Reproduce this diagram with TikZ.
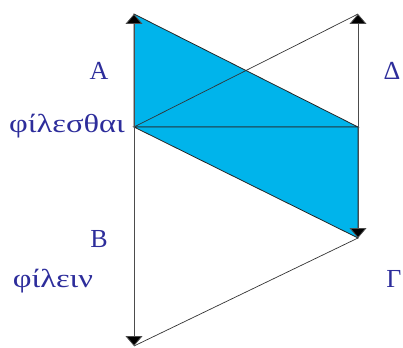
\documentclass[tikz,border=0pt]{standalone}
\usepackage{fontspec}
\setmainfont{Liberation Serif}
\usetikzlibrary{arrows.meta, positioning}
\definecolor{fillblue}{RGB}{0,180,235}
\definecolor{labelblue}{RGB}{45,45,155}

\begin{document}
\begin{tikzpicture}[x=1pt, y=-1pt,
  lbl/.style={text=labelblue, font=\fontsize{26}{30}\selectfont, inner sep=0pt, anchor=base},
  word/.style={lbl, xscale=1.25},
  axisline/.style={draw=black!70, line width=0.8pt, {Triangle[width=17pt,length=10pt,fill=black]}-{Triangle[width=17pt,length=10pt,fill=black]}},
  shade/.style={fill=fillblue, draw=black!85, line width=0.8pt},
  thinline/.style={draw=black!80, line width=0.7pt}
]
  \useasboundingbox (0,0) rectangle (403,347);
  \coordinate (lt) at (134,14);
  \coordinate (lm) at (134,127);
  \coordinate (lb) at (134,346);
  \coordinate (rt) at (358,14);
  \coordinate (rm) at (358,127);
  \coordinate (rb) at (358,238);

  % blue triangles
  \path[shade] (lt) -- (rm) -- (lm) -- cycle;
  \path[shade] (lm) -- (rm) -- (rb) -- cycle;

  % crossing lines
  \draw[thinline] (lm) -- (rt);
  \draw[thinline] (lb) -- (rb);

  % vertical axes
  \draw[axisline] (lb) -- (lt);
  \draw[axisline] (rb) -- (rt);

  % labels
  \node[lbl] (A) at (99,80) {Α};
  \node[lbl] (D) at (392,80) {Δ};
  \node[word] (fil1) at (67,133) {φίλεσθαι};
  \node[lbl] (B) at (99,247) {Β};
  \node[word] (fil2) at (53,287) {φίλειν};
  \node[lbl] (G) at (394,287) {Γ};
\end{tikzpicture}
\end{document}
